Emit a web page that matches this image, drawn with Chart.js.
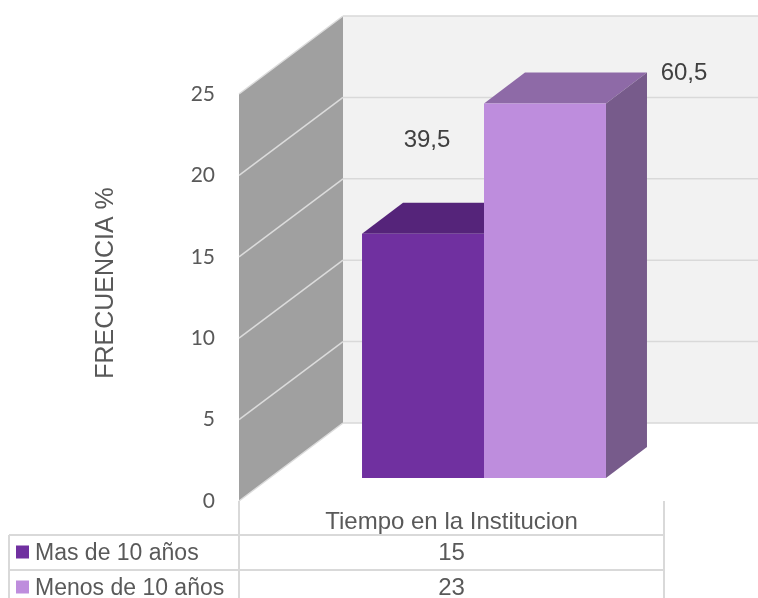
<!DOCTYPE html>
<html>
<head>
<meta charset="utf-8">
<script src="https://cdn.jsdelivr.net/npm/chart.js@4/dist/chart.umd.min.js"></script>
<style>
  html, body { margin: 0; padding: 0; background: #ffffff; }
  #Frecuencia { display: block; }
</style>
</head>
<body>
<canvas id="Frecuencia" width="758" height="598"></canvas>
<script>
const categories = ["Tiempo en la Institucion"];
const seriesNames = ["Mas de 10 años", "Menos de 10 años"];
const seriesValues = [15, 23];
const percentLabels = ["39,5", "60,5"];
const yMax = 25;
const yStep = 5;
const axisTitle = "FRECUENCIA %";

// front, top and side colours for each bar
const frontColours = ["#7030A0", "#BE8DDD"];
const topColours = ["#55247A", "#8E6AA7"];
const sideColours = ["#5A2682", "#775B8B"];

// 3d offsets relative to the plane the bars stand on
const FRONT = { x: -31, y: 23 };
const BACK = { x: 73, y: -55 };
const DEPTH = { x: 41, y: -31 };

const textColour = "#595959";
const lineColour = "#D9D9D9";

const polygon = (ctx, pts, fill) =>
{
  ctx.beginPath();
  ctx.moveTo(pts[0][0], pts[0][1]);
  for (let i = 1; i < pts.length; i++) ctx.lineTo(pts[i][0], pts[i][1]);
  ctx.closePath();
  ctx.fillStyle = fill;
  ctx.fill();
}

const walls =
{
  id: "walls",
  beforeDraw: chart =>
  {
    const ctx = chart.ctx;
    const ca = chart.chartArea;
    const y = chart.scales.y;
    const y0 = y.getPixelForValue(0);
    const yTop = y.getPixelForValue(yMax);
    ctx.save();

    // back wall
    ctx.fillStyle = "#F2F2F2";
    ctx.fillRect(ca.left + BACK.x, yTop + BACK.y, chart.width, y0 - yTop);

    // side wall
    polygon(ctx, [
      [ca.left + FRONT.x, yTop + FRONT.y],
      [ca.left + BACK.x, yTop + BACK.y],
      [ca.left + BACK.x, y0 + BACK.y],
      [ca.left + FRONT.x, y0 + FRONT.y]
    ], "#A0A0A0");

    // grid lines over both walls
    ctx.lineWidth = 1.5;
    for (let v = 0; v <= yMax; v += yStep)
    {
      const py = y.getPixelForValue(v);
      ctx.strokeStyle = "#DCDCDC";
      ctx.beginPath();
      ctx.moveTo(ca.left + FRONT.x, py + FRONT.y);
      ctx.lineTo(ca.left + BACK.x, py + BACK.y);
      ctx.stroke();
      ctx.strokeStyle = lineColour;
      ctx.beginPath();
      ctx.moveTo(ca.left + BACK.x, py + BACK.y);
      ctx.lineTo(chart.width, py + BACK.y);
      ctx.stroke();
    }

    // axis title
    ctx.translate(106, 283);
    ctx.rotate(-Math.PI / 2);
    ctx.font = "25px 'Liberation Sans', Arial, sans-serif";
    ctx.fillStyle = textColour;
    ctx.textAlign = "center";
    ctx.textBaseline = "middle";
    ctx.fillText(axisTitle, 0, 0);
    ctx.restore();
  },
  beforeDatasetsDraw: chart =>
  {
    const ctx = chart.ctx;
    ctx.save();
    chart.data.datasets.forEach((ds, i) =>
    {
      chart.getDatasetMeta(i).data.forEach(bar =>
      {
        const p = bar.getProps(["x", "y", "base", "width"], true);
        const l = p.x - p.width / 2;
        const r = p.x + p.width / 2;
        polygon(ctx, [[l, p.y], [l + DEPTH.x, p.y + DEPTH.y], [r + DEPTH.x, p.y + DEPTH.y], [r, p.y]], topColours[i]);
        polygon(ctx, [[r, p.y], [r + DEPTH.x, p.y + DEPTH.y], [r + DEPTH.x, p.base + DEPTH.y], [r, p.base]], sideColours[i]);
      });
    });
    ctx.restore();
  },
  afterDatasetsDraw: chart =>
  {
    const ctx = chart.ctx;
    const ca = chart.chartArea;
    ctx.save();

    // percentage labels, placed by hand near each bar
    const labelShift = [[4, -93], [139, -30]];
    ctx.font = "24px 'Liberation Sans', Arial, sans-serif";
    ctx.fillStyle = "#404040";
    ctx.textAlign = "center";
    ctx.textBaseline = "middle";
    chart.data.datasets.forEach((ds, i) =>
    {
      const bar = chart.getDatasetMeta(i).data[0];
      ctx.fillText(percentLabels[i], bar.x + labelShift[i][0], bar.y + labelShift[i][1]);
    });

    // data table under the chart
    const colLeft = ca.left + FRONT.x;
    const colRight = ca.right + FRONT.x - 3;
    const colMid = (colLeft + colRight) / 2;
    const floorY = chart.scales.y.getPixelForValue(0) + FRONT.y;
    const rowTop = floorY + 34;
    const rowH = 35;
    const tableLeft = 9;

    ctx.strokeStyle = lineColour;
    ctx.lineWidth = 2;
    ctx.beginPath();
    ctx.moveTo(colLeft, floorY);
    ctx.lineTo(colLeft, chart.height);
    ctx.moveTo(colRight, floorY);
    ctx.lineTo(colRight, chart.height);
    ctx.moveTo(tableLeft, rowTop);
    ctx.lineTo(tableLeft, chart.height);
    for (let r = 0; r < 2; r++)
    {
      ctx.moveTo(tableLeft, rowTop + r * rowH);
      ctx.lineTo(colRight, rowTop + r * rowH);
    }
    ctx.stroke();

    ctx.font = "24px 'Liberation Sans', Arial, sans-serif";
    ctx.fillStyle = textColour;
    ctx.textAlign = "center";
    ctx.fillText(chart.data.labels[0], colMid, rowTop - 13);

    chart.data.datasets.forEach((ds, i) =>
    {
      const cy = rowTop + i * rowH + rowH / 2;
      ctx.fillStyle = frontColours[i];
      ctx.fillRect(16, cy - 7, 13, 13);
      ctx.fillStyle = textColour;
      ctx.font = "23px 'Liberation Sans', Arial, sans-serif";
      ctx.textAlign = "left";
      ctx.fillText(ds.label, 35, cy + 1);
      ctx.font = "24px 'Liberation Sans', Arial, sans-serif";
      ctx.textAlign = "center";
      ctx.fillText(String(ds.data[0]), colMid, cy + 1);
    });
    ctx.restore();
  }
};

const makeChart = () =>
{
  const frecuencia = new Chart(document.getElementById("Frecuencia").getContext("2d"),
  {
    type: "bar",
    data:
    {
      labels: categories,
      datasets: seriesNames.map((name, i) => (
      {
        label: name,
        data: [seriesValues[i]],
        backgroundColor: frontColours[i],
        borderWidth: 0,
        barPercentage: 1,
        categoryPercentage: 0.57
      }))
    },
    options:
    {
      responsive: false,
      animation: false,
      layout:
      {
        padding: { left: 0, top: 71, right: 60, bottom: 120 }
      },
      plugins:
      {
        legend: { display: false },
        tooltip: { enabled: false }
      },
      scales:
      {
        x:
        {
          display: false
        },
        y:
        {
          min: 0,
          max: yMax,
          afterFit: scale => { scale.width = 270; },
          ticks:
          {
            stepSize: yStep,
            color: textColour,
            padding: 55,
            labelOffset: 23,
            font: { family: "Lato, 'Liberation Sans', sans-serif", size: 21 }
          },
          grid: { display: false, drawTicks: false },
          border: { display: false }
        }
      }
    },
    plugins: [walls]
  });
}

makeChart();
</script>
</body>
</html>
